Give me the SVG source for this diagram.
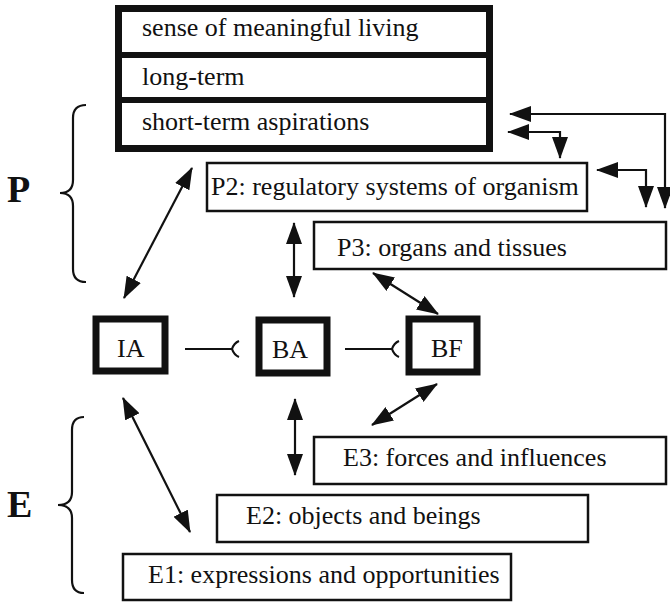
<svg xmlns="http://www.w3.org/2000/svg" width="670" height="603" viewBox="0 0 670 603">
  <style>
    text { font-family: "Liberation Serif", "Times New Roman", serif; fill: #111; }
    .lbl { font-size: 26px; }
    .big { font-size: 38px; font-weight: bold; }
    .box { fill: #fff; stroke: #111; stroke-width: 2.5; }
    .thick { fill: #fff; stroke: #111; stroke-width: 7; }
    .div { stroke: #111; stroke-width: 6; }
    .wire { fill: none; stroke: #111; stroke-width: 2.2; }
    .both { marker-start: url(#head); marker-end: url(#head); }
  </style>
  <defs>
    <!-- filled arrowhead, about 22 x 16 px at the 2.2 px wire width -->
    <marker id="head" viewBox="0 0 22 16" refX="21" refY="8" markerWidth="10" markerHeight="7.3" orient="auto-start-reverse">
      <path d="M0 0 L22 8 L0 16 Z" fill="#111"/>
    </marker>
  </defs>

  <!-- side labels and braces -->
  <g id="label-P">
    <text class="big" x="7" y="202">P</text>
    <path class="wire" d="M86 105 Q73 105 73 118 L73 180 Q73 193 60 193 Q73 193 73 206 L73 269 Q73 282 86 282"/>
  </g>
  <g id="label-E">
    <text class="big" x="7" y="517">E</text>
    <path class="wire" d="M84 417 Q72 417 72 430 L72 492 Q72 505 58 505 Q72 505 72 518 L72 580 Q72 593 84 593"/>
  </g>

  <!-- aspirations stack -->
  <g id="aspirations">
    <rect class="thick" x="118.5" y="8.5" width="371" height="140"/>
    <line class="div" x1="118" y1="55" x2="490" y2="55"/>
    <line class="div" x1="118" y1="100" x2="490" y2="100"/>
    <text class="lbl" x="142" y="36">sense of meaningful living</text>
    <text class="lbl" x="142" y="85">long-term</text>
    <text class="lbl" x="142" y="130">short-term aspirations</text>
  </g>

  <!-- personal levels -->
  <g id="P2">
    <rect class="box" x="207" y="163" width="380" height="48"/>
    <text class="lbl" x="211" y="195">P2: regulatory systems of organism</text>
  </g>
  <g id="P3">
    <rect class="box" x="314" y="222" width="352" height="47"/>
    <text class="lbl" x="337" y="256">P3: organs and tissues</text>
  </g>

  <!-- agents -->
  <g id="IA">
    <rect class="thick" x="96" y="319" width="69" height="52"/>
    <text class="lbl" x="117" y="357">IA</text>
  </g>
  <g id="BA">
    <rect class="thick" x="259" y="320" width="68" height="53"/>
    <text class="lbl" x="272" y="358">BA</text>
  </g>
  <g id="BF">
    <rect class="thick" x="409" y="319" width="68" height="53"/>
    <text class="lbl" x="431" y="357">BF</text>
  </g>

  <!-- environment levels -->
  <g id="E3">
    <rect class="box" x="314" y="437" width="352" height="47"/>
    <text class="lbl" x="343" y="466">E3: forces and influences</text>
  </g>
  <g id="E2">
    <rect class="box" x="217" y="495" width="371" height="47"/>
    <text class="lbl" x="246" y="524">E2: objects and beings</text>
  </g>
  <g id="E1">
    <rect class="box" x="123" y="554" width="388" height="46"/>
    <text class="lbl" x="148" y="583">E1: expressions and opportunities</text>
  </g>

  <!-- connectors -->
  <g id="connectors">
    <!-- feedback loops on the right -->
    <path class="wire both" d="M510 114 H665 V208"/>
    <path class="wire both" d="M508 132 H560 V158"/>
    <path class="wire both" d="M597 170 H646 V207"/>
    <!-- vertical links through BA -->
    <line class="wire both" x1="294" y1="223" x2="294" y2="297"/>
    <line class="wire both" x1="295" y1="399" x2="295" y2="475"/>
    <!-- diagonal links -->
    <line class="wire both" x1="124" y1="298" x2="192" y2="168"/>
    <line class="wire both" x1="123" y1="398" x2="190" y2="532"/>
    <line class="wire both" x1="373" y1="273" x2="438" y2="314"/>
    <line class="wire both" x1="372" y1="425" x2="437" y2="384"/>
    <!-- fork-ended links between agents -->
    <path class="wire" d="M185 349 H232 M239 341 Q234 343 232 349 Q234 355 239 357"/>
    <path class="wire" d="M345 349 H392 M399 341 Q394 343 392 349 Q394 355 399 357"/>
  </g>
</svg>
